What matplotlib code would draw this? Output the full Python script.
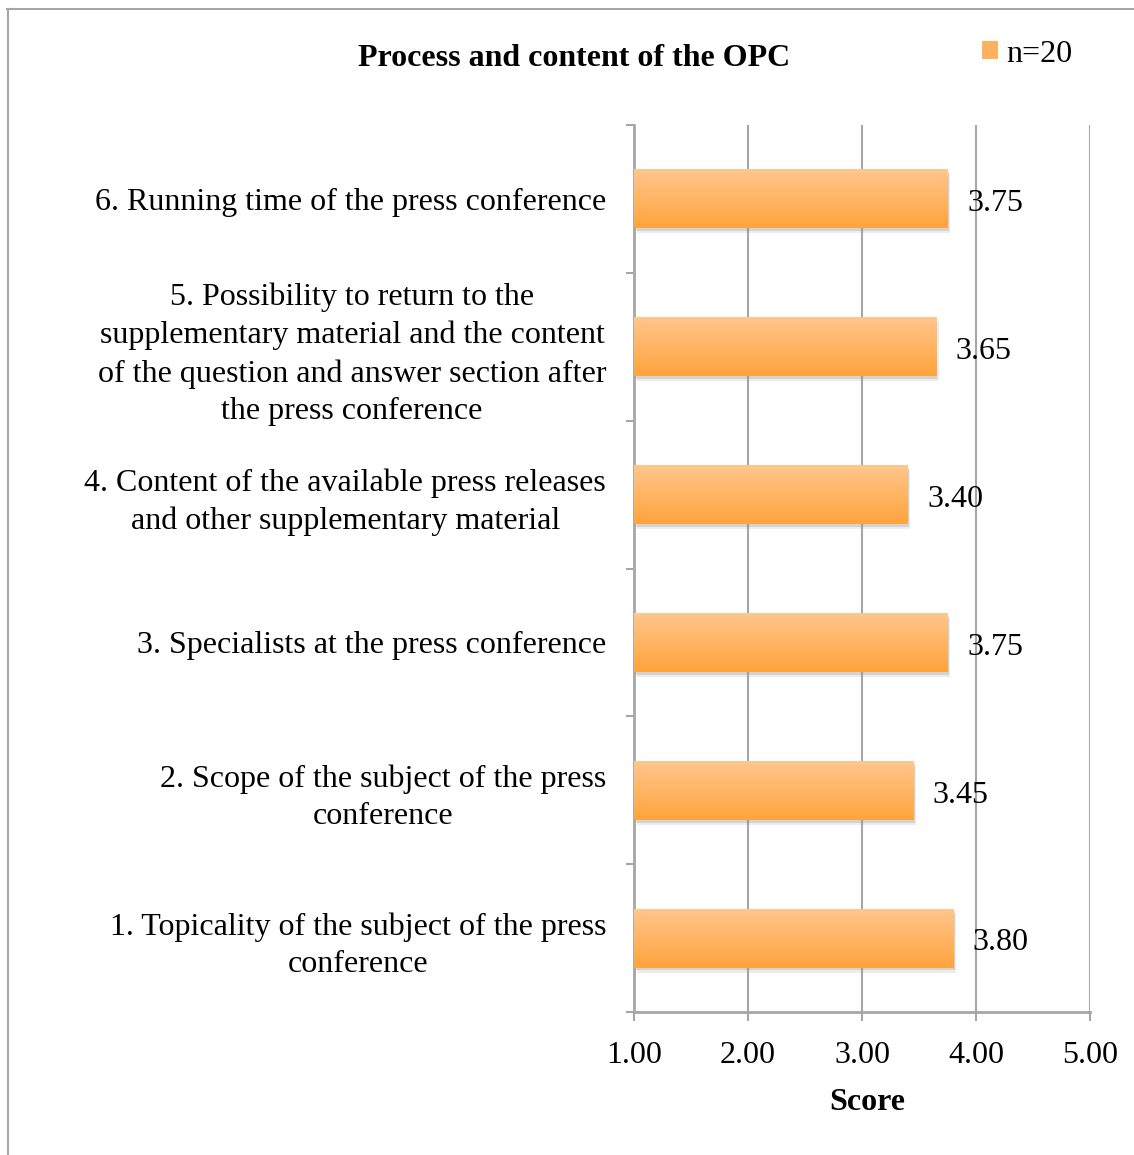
import matplotlib
matplotlib.use('Agg')
import matplotlib.pyplot as plt
import numpy as np
from matplotlib.colors import LinearSegmentedColormap
from matplotlib.patches import Patch
from matplotlib.lines import Line2D
import matplotlib.patheffects as pe

categories = [
    "1. Topicality of the subject of the press\nconference",
    "2. Scope of the subject of the press\nconference",
    "3. Specialists at the press conference",
    "4. Content of the available press releases\nand other supplementary material",
    "5. Possibility to return to the\nsupplementary material and the content\nof the question and answer section after\nthe press conference",
    "6. Running time of the press conference",
]
scores = [3.80, 3.45, 3.75, 3.40, 3.65, 3.75]
x_ticks = [1.0, 2.0, 3.0, 4.0, 5.0]
series_name = "n=20"
title = "Process and content of the OPC"
xlabel = "Score"

plt.rcParams['font.family'] = ['Liberation Serif', 'DejaVu Serif']
FS = 23
GRAY = '#A6A6A6'

fig = plt.figure(figsize=(11.34, 11.55), dpi=100)
ax = fig.add_axes([634/1134, 1-1012/1155, (1090-634)/1134, (1012-125)/1155])

ypos = np.arange(len(categories))
base = x_ticks[0]
widths = [s - base for s in scores]

cmap = LinearSegmentedColormap.from_list('og', ['#FFA33C', '#FFC78E'])
bars = ax.barh(ypos, widths, left=base, height=0.4, color='#FFB15F', zorder=3,
               path_effects=[pe.SimplePatchShadow(offset=(2, -3.5), shadow_rgbFace='#a0a0a0', alpha=0.2),
                             pe.SimplePatchShadow(offset=(1, -2), shadow_rgbFace='#8a8a8a', alpha=0.25),
                             pe.Normal()])
grad = np.linspace(0, 1, 256).reshape(-1, 1)
for b in bars:
    x0, y0 = b.get_x(), b.get_y()
    im = ax.imshow(grad, cmap=cmap, aspect='auto', origin='lower',
                   extent=(x0, x0 + b.get_width(), y0, y0 + b.get_height()), zorder=4)
    im.set_clip_path(b)

for b, s in zip(bars, scores):
    ax.annotate(f"{s:.2f}", (b.get_x() + b.get_width(), b.get_y() + b.get_height()/2),
                xytext=(14, -3.5), textcoords='offset points', ha='left', va='center',
                fontsize=FS, zorder=6)

ax.set_xlim(x_ticks[0], x_ticks[-1])
ax.set_ylim(-0.5, len(categories) - 0.5)
ax.set_xticks(x_ticks)
ax.set_xticklabels([f"{t:.2f}" for t in x_ticks], fontsize=FS)
ax.set_yticks(ypos)
ax.set_yticklabels(categories, fontsize=FS, multialignment='center', linespacing=1.38)
ax.set_yticks(np.arange(-0.5, len(categories)), minor=True)
ax.tick_params(axis='y', which='major', length=0, pad=20)
ax.tick_params(axis='y', which='minor', length=6, color=GRAY, width=1.5, direction='out')
ax.tick_params(axis='x', which='major', length=6.5, color=GRAY, width=1.5, direction='out', pad=14.5)
ax.grid(axis='x', color=GRAY, linewidth=1.5, zorder=0)
ax.set_axisbelow(True)
for side in ['top', 'right']:
    ax.spines[side].set_visible(False)
for side in ['left', 'bottom']:
    ax.spines[side].set_color(GRAY)
    ax.spines[side].set_linewidth(2)
ax.set_xlabel(xlabel, fontsize=FS, fontweight='bold', labelpad=13)
ax.xaxis.label.set_x((867-634)/456)

fig.text(574/1134, 1-59/1155, title, fontsize=FS, fontweight='bold', ha='center', va='center')

handle = Patch(facecolor='#FFB15F', edgecolor='none')
fig.legend([handle], [series_name], loc='center left', bbox_to_anchor=(982/1134, 1-54/1155),
           frameon=False, fontsize=FS, handlelength=0.5, handleheight=0.5,
           handletextpad=0.25, borderpad=0, borderaxespad=0)

fig.add_artist(Line2D([7.5/1134, 7.5/1134], [0, 1-9/1155], color=GRAY, linewidth=1.5))
fig.add_artist(Line2D([7/1134, 1], [1-9/1155, 1-9/1155], color=GRAY, linewidth=1.5))

fig.savefig('out.png', dpi=100, facecolor='white')
